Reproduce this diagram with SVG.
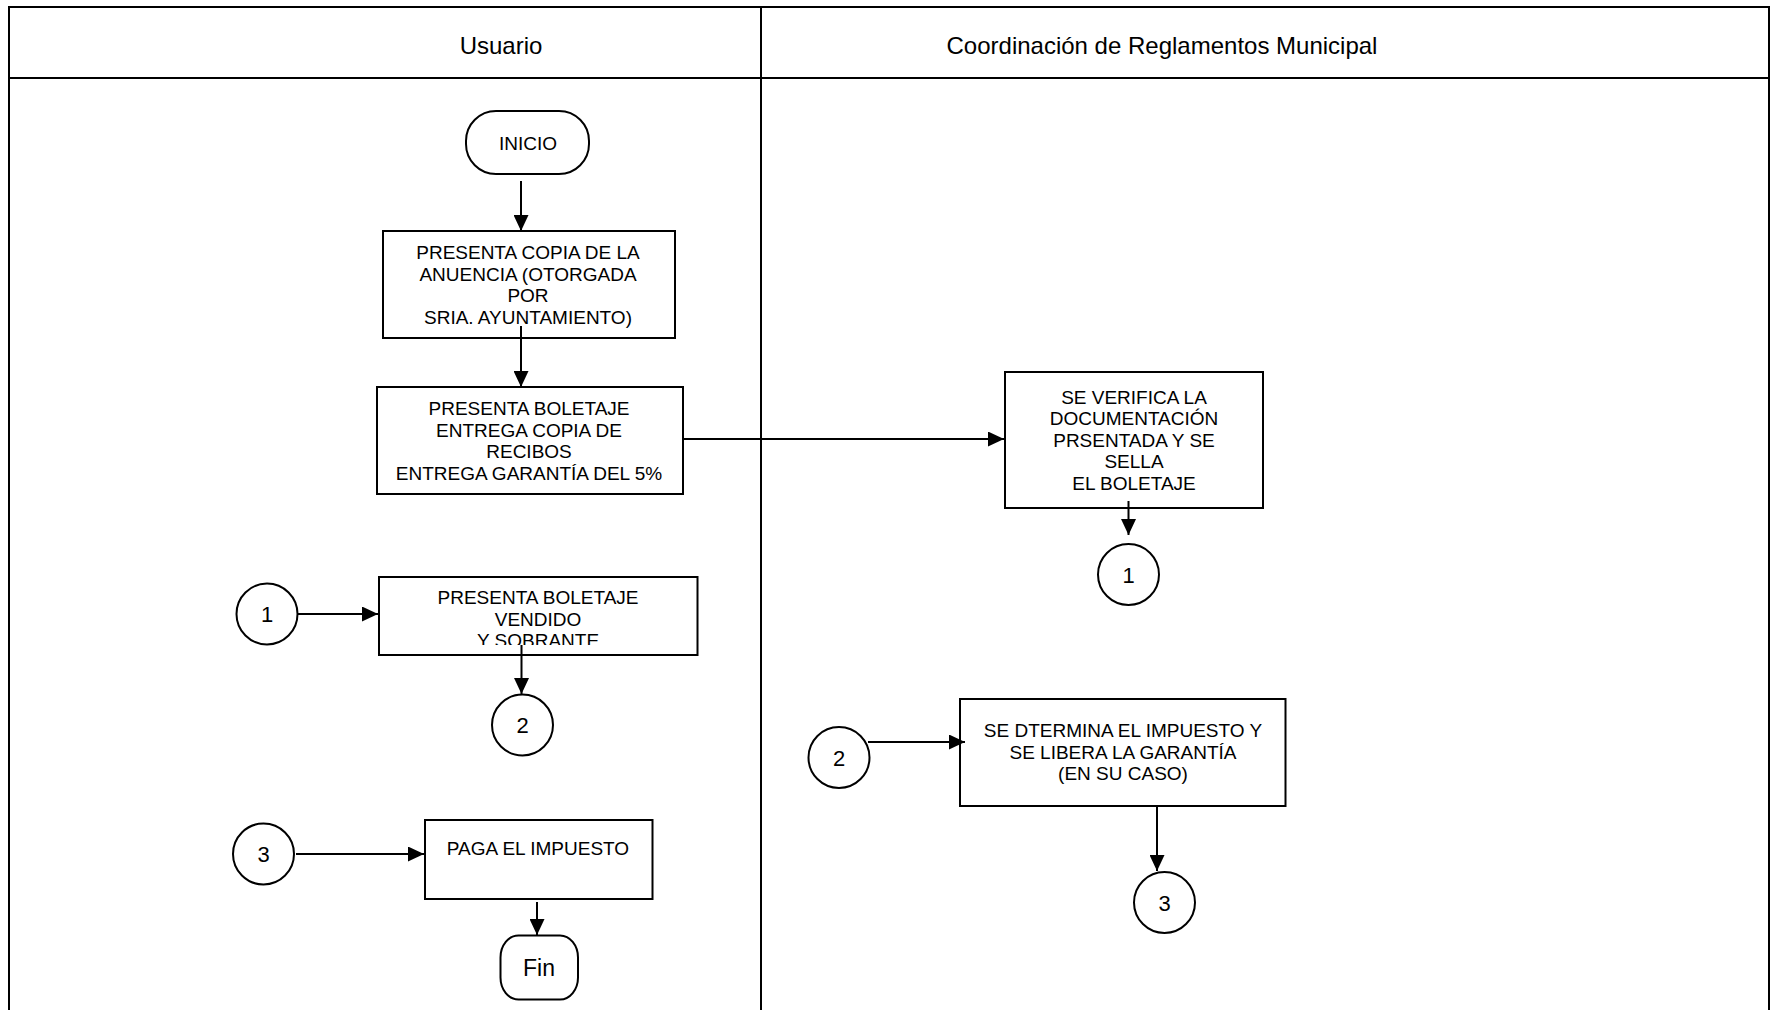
<svg xmlns="http://www.w3.org/2000/svg" width="1773" height="1010" viewBox="0 0 1773 1010">
<style>
.ln{fill:none;stroke:#000;stroke-width:2}
.bx{fill:#fff;stroke:#000;stroke-width:2}
.t{font-family:"Liberation Sans",Arial,sans-serif;font-size:19px;fill:#000;text-anchor:middle}
.h{font-family:"Liberation Sans",Arial,sans-serif;font-size:24px;fill:#000;text-anchor:middle}
.c{font-family:"Liberation Sans",Arial,sans-serif;font-size:22px;fill:#000;text-anchor:middle}
.cn{stroke:#000;stroke-width:2;fill:none;marker-end:url(#ah)}
</style>
<defs>
<marker id="ah" viewBox="0 0 16 15" refX="16" refY="7.5" markerWidth="16" markerHeight="15" markerUnits="userSpaceOnUse" orient="auto">
<path d="M0,0 L16,7.5 L0,15 z" fill="#000"/>
</marker>
<clipPath id="clip4"><rect x="380" y="577.5" width="317" height="67.5"/></clipPath>
</defs>
<rect width="1773" height="1010" fill="#fff"/>
<g id="lanes">
<rect class="ln" x="9" y="7" width="1760" height="1010"/>
<line class="ln" x1="9" y1="78" x2="1769" y2="78"/>
<line class="ln" x1="761" y1="7" x2="761" y2="1010"/>
<text class="h" x="501" y="53.5">Usuario</text>
<text class="h" x="1162" y="53.5">Coordinación de Reglamentos Municipal</text>
</g>
<g id="inicio">
<rect class="bx" x="466" y="111" width="123" height="63" rx="30" ry="30"/>
<text class="t" x="528" y="150">INICIO</text>
</g>
<g id="box1">
<rect class="bx" x="383" y="231" width="292" height="107"/>
<text class="t" x="528" y="259">PRESENTA COPIA DE LA</text>
<text class="t" x="528" y="280.5">ANUENCIA (OTORGADA</text>
<text class="t" x="528" y="302">POR</text>
<text class="t" x="528" y="323.5">SRIA. AYUNTAMIENTO)</text>
</g>
<g id="box2">
<rect class="bx" x="377" y="387" width="306" height="107"/>
<text class="t" x="529" y="415">PRESENTA BOLETAJE</text>
<text class="t" x="529" y="436.5">ENTREGA COPIA DE</text>
<text class="t" x="529" y="458">RECIBOS</text>
<text class="t" x="529" y="479.5">ENTREGA GARANTÍA DEL 5%</text>
</g>
<g id="box3">
<rect class="bx" x="1005" y="372" width="258" height="136"/>
<text class="t" x="1134" y="404">SE VERIFICA LA</text>
<text class="t" x="1134" y="425">DOCUMENTACIÓN</text>
<text class="t" x="1134" y="447">PRSENTADA Y SE</text>
<text class="t" x="1134" y="468">SELLA</text>
<text class="t" x="1134" y="490">EL BOLETAJE</text>
</g>
<g id="conn1r">
<circle class="bx" cx="1128.5" cy="574.5" r="30.5"/>
<text class="c" x="1128.5" y="582.5">1</text>
</g>
<g id="conn1l">
<circle class="bx" cx="267" cy="614" r="30.5"/>
<text class="c" x="267" y="622">1</text>
</g>
<g id="box4">
<rect class="bx" x="379" y="577" width="318.5" height="78"/>
<g clip-path="url(#clip4)">
<text class="t" x="538" y="604">PRESENTA BOLETAJE</text>
<text class="t" x="538" y="625.5">VENDIDO</text>
<text class="t" x="538" y="647">Y SOBRANTE</text>
</g>
</g>
<g id="conn2l">
<circle class="bx" cx="522.5" cy="725" r="30.5"/>
<text class="c" x="522.5" y="733">2</text>
</g>
<g id="conn2r">
<circle class="bx" cx="839" cy="757.5" r="30.5"/>
<text class="c" x="839" y="765.5">2</text>
</g>
<g id="box5">
<rect class="bx" x="960" y="699" width="325.5" height="107"/>
<text class="t" x="1123" y="737">SE DTERMINA EL IMPUESTO Y</text>
<text class="t" x="1123" y="758.5">SE LIBERA LA GARANTÍA</text>
<text class="t" x="1123" y="780">(EN SU CASO)</text>
</g>
<g id="conn3r">
<circle class="bx" cx="1164.5" cy="902.5" r="30.5"/>
<text class="c" x="1164.5" y="910.5">3</text>
</g>
<g id="conn3l">
<circle class="bx" cx="263.5" cy="854" r="30.5"/>
<text class="c" x="263.5" y="862">3</text>
</g>
<g id="box6">
<rect class="bx" x="425" y="820" width="227.5" height="79"/>
<text class="t" x="538" y="854.5">PAGA EL IMPUESTO</text>
</g>
<g id="fin">
<rect class="bx" x="500.5" y="935.5" width="77.5" height="64" rx="18" ry="22"/>
<text class="c" x="539" y="975.5" style="font-size:23px">Fin</text>
</g>
<g id="connectors">
<line class="cn" x1="521" y1="181" x2="521" y2="231"/>
<line class="cn" x1="521" y1="326" x2="521" y2="387"/>
<line class="cn" x1="682" y1="439" x2="1004" y2="439"/>
<line class="cn" x1="1128.5" y1="501" x2="1128.5" y2="535"/>
<line class="cn" x1="298" y1="614" x2="378" y2="614"/>
<line class="cn" x1="521.5" y1="645" x2="521.5" y2="694"/>
<line class="cn" x1="868" y1="742" x2="965" y2="742"/>
<line class="cn" x1="1157" y1="806" x2="1157" y2="871"/>
<line class="cn" x1="296" y1="854" x2="424" y2="854"/>
<line class="cn" x1="537" y1="902" x2="537" y2="935"/>
</g>
</svg>
